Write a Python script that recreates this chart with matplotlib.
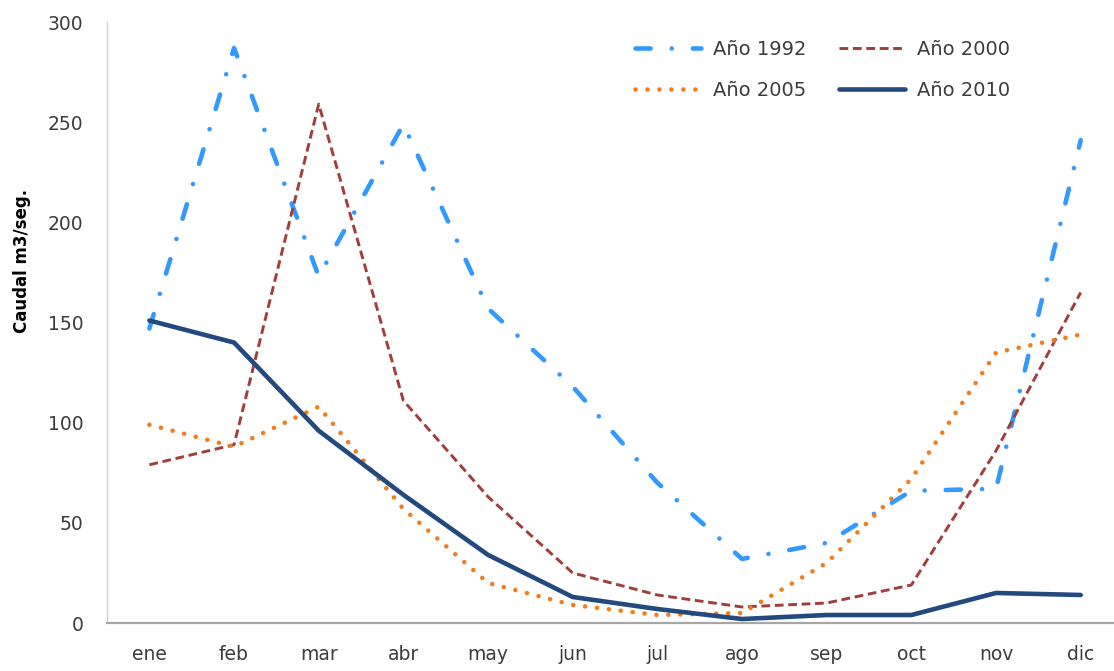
import matplotlib
matplotlib.use('Agg')
import matplotlib.pyplot as plt
import numpy as np

# Monthly discharge data
meses = ['ene', 'feb', 'mar', 'abr', 'may', 'jun', 'jul', 'ago', 'sep', 'oct', 'nov', 'dic']
anio_1992 = [147, 287, 173, 249, 157, 118, 70, 32, 40, 66, 67, 241]
anio_2000 = [79, 89, 259, 111, 63, 25, 14, 8, 10, 19, 86, 165]
anio_2005 = [99, 88, 108, 57, 20, 9, 4, 5, 30, 72, 135, 144]
anio_2010 = [151, 140, 96, 64, 34, 13, 7, 2, 4, 4, 15, 14]

plt.rcParams['font.family'] = ['DejaVu Sans']

fig = plt.figure(figsize=(11.14, 6.71), dpi=100)
ax = fig.add_axes([0.0961, 0.0715, 0.912, 0.8957])

x = np.arange(len(meses))

l92, = ax.plot(x, anio_1992, color='#3399FF', lw=3.3, label='Año 1992',
               dashes=(3.3, 4.6, 0.01, 4.6), dash_capstyle='round')
l00, = ax.plot(x, anio_2000, color='#A03E3C', lw=2.1, label='Año 2000',
               dashes=(3.0, 1.6))
l05, = ax.plot(x, anio_2005, color='#F07D1E', lw=3.3, label='Año 2005',
               dashes=(0.01, 2.6), dash_capstyle='round')
l10, = ax.plot(x, anio_2010, color='#23497F', lw=3.3, label='Año 2010',
               solid_capstyle='round')

ax.set_xlim(-0.5, 11.5)
ax.set_ylim(0, 300)
ax.set_yticks(np.arange(0, 301, 50))
ax.set_xticks(x)
ax.set_xticklabels(meses)

ax.tick_params(axis='both', length=0, labelsize=13.5, colors='#3C3C3C')
ax.tick_params(axis='x', pad=16)
ax.tick_params(axis='y', pad=17)

for side in ['top', 'right']:
    ax.spines[side].set_visible(False)
ax.spines['left'].set_color('#D0D0D0')
ax.spines['left'].set_linewidth(1.0)
ax.spines['bottom'].set_color('#A6A6A6')
ax.spines['bottom'].set_linewidth(1.6)

fig.text(0.020, 0.611, 'Caudal m3/seg.', rotation=90, fontsize=12,
         fontweight='bold', color='black', ha='center', va='center')

# legend rows: 1992 / 2000 on top, 2005 / 2010 below
ax.legend([l92, l05, l00, l10], ['Año 1992', 'Año 2005', 'Año 2000', 'Año 2010'],
          ncol=2, loc='upper left', bbox_to_anchor=(0.570, 0.940),
          bbox_transform=fig.transFigure, frameon=False, fontsize=14,
          handlelength=3.4, handletextpad=0.6, columnspacing=1.7,
          labelspacing=1.1, borderpad=0, borderaxespad=0,
          labelcolor='#3C3C3C')

plt.savefig('out.png', dpi=100)
